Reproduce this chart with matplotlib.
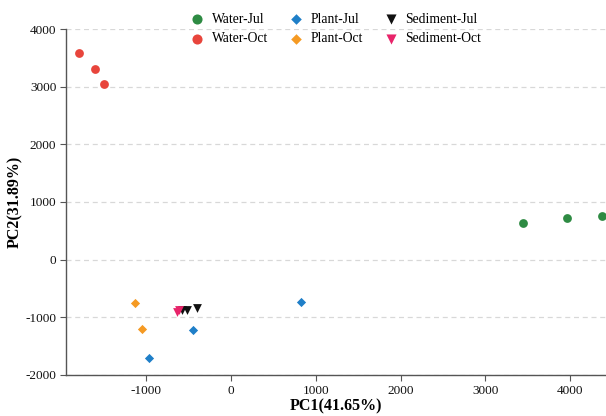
import matplotlib.pyplot as plt

# PCA scores
water_jul_x = [3447, 3965, 4376]
water_jul_y = [643, 730, 765]
water_oct_x = [-1788, -1600, -1494]
water_oct_y = [3583, 3304, 3043]
plant_jul_x = [-965, -447, 824]
plant_jul_y = [-1704, -1217, -730]
plant_oct_x = [-1129, -1047]
plant_oct_y = [-748, -1200]
sed_jul_x = [-576, -518, -400]
sed_jul_y = [-870, -870, -835]
sed_oct_x = [-635, -612]
sed_oct_y = [-904, -870]

x_ticks = [-1000, 0, 1000, 2000, 3000, 4000]
y_ticks = [-2000, -1000, 0, 1000, 2000, 3000, 4000]

plt.rcParams['font.family'] = ['Liberation Serif', 'DejaVu Serif']
plt.rcParams['axes.unicode_minus'] = False

fig = plt.figure(figsize=(6.06, 4.16), dpi=100)
ax = fig.add_axes([0.109, 0.099, 0.891, 0.831])

groups = [
    (water_jul_x, water_jul_y, 'Water-Jul', 'o', '#2e8b43', 40),
    (water_oct_x, water_oct_y, 'Water-Oct', 'o', '#e8453c', 40),
    (plant_jul_x, plant_jul_y, 'Plant-Jul', 'D', '#1f7fc8', 22),
    (plant_oct_x, plant_oct_y, 'Plant-Oct', 'D', '#f59a23', 22),
    (sed_jul_x, sed_jul_y, 'Sediment-Jul', 'v', '#111111', 40),
    (sed_oct_x, sed_oct_y, 'Sediment-Oct', 'v', '#e8246a', 40),
]
for xs, ys, lab, mk, col, s in groups:
    ax.scatter(xs, ys, label=lab, marker=mk, color=col, s=s, linewidths=0, zorder=3)

ax.set_xlim(-1940, 4420)
ax.set_ylim(-2000, 4000)
ax.set_xticks(x_ticks)
ax.set_yticks(y_ticks)
ax.tick_params(labelsize=9.5, length=4, color='#555555', pad=3, labelcolor='#111111')
ax.yaxis.grid(True, linestyle=(0, (4, 3)), color='#d8d8d8', linewidth=0.9)
ax.set_axisbelow(True)
for side in ['top', 'right']:
    ax.spines[side].set_visible(False)
for side in ['left', 'bottom']:
    ax.spines[side].set_color('#555555')
    ax.spines[side].set_linewidth(1.0)

ax.set_xlabel('PC1(41.65%)', fontsize=11.5, fontweight='bold', va='top')
ax.xaxis.set_label_coords(0.5, -0.068)
ax.set_ylabel('PC2(31.89%)', fontsize=11.5, fontweight='bold')
ax.yaxis.set_label_coords(-0.08, 0.5)

h, l = ax.get_legend_handles_labels()
ax.legend(h, l, ncol=3, loc='center', bbox_to_anchor=(0.5, 1.0), frameon=False,
          fontsize=9.8, columnspacing=1.5, handlelength=1.0, handletextpad=0.6,
          labelspacing=0.45, borderaxespad=0, markerscale=1.15)

fig.savefig('out.png', dpi=100)
